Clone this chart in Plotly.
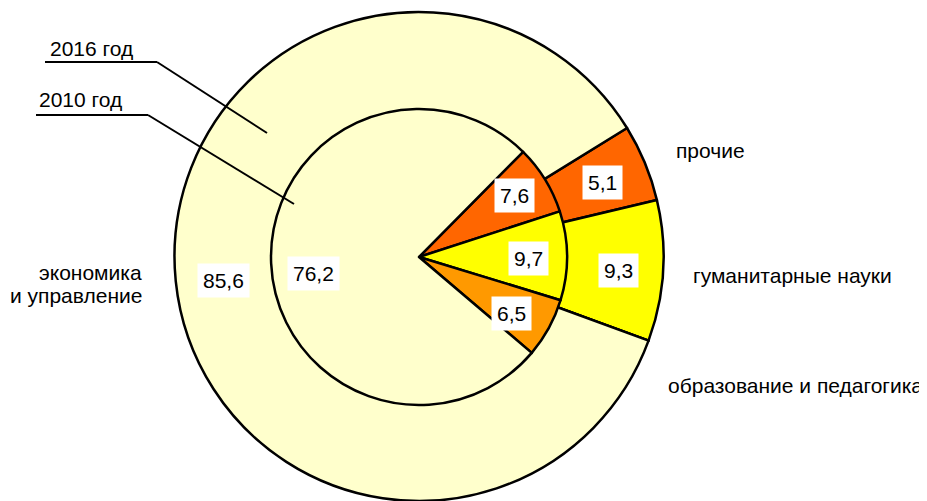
import plotly.graph_objects as go

# data
categories = ["прочие", "гуманитарные науки", "образование и педагогика", "экономика и управление"]
values_2016 = [5.1, 9.3, 0.0, 85.6]
values_2010 = [7.6, 9.7, 6.5, 76.2]

_COLORS = ["#FF6600", "#FFFF00", "#FF9900", "#FFFFCC"]
_FONT = "Arial, Liberation Sans, sans-serif"

# the page body has an 8px margin, so the figure sits at (8, 8) in a 927x501 window
OFF = 8
W, H = 927 - OFF, 501 - OFF


def px(x):
    return (x - OFF) / W


def py(y):
    return 1 - (y - OFF) / H


fig = go.Figure()

# outer ring - 2016
fig.add_trace(go.Pie(
    labels=categories,
    values=values_2016,
    sort=False,
    direction="clockwise",
    rotation=58.3,
    marker=dict(colors=_COLORS, line=dict(color="black", width=2.5)),
    textinfo="none",
    domain=dict(x=[px(174.5), px(663.5)], y=[0, py(12)]),
    showlegend=False,
    name="2016 год",
))

# inner pie - 2010
fig.add_trace(go.Pie(
    labels=categories,
    values=values_2010,
    sort=False,
    direction="clockwise",
    rotation=44.7,
    marker=dict(colors=_COLORS, line=dict(color="black", width=2.5)),
    textinfo="none",
    domain=dict(x=[px(271), px(567)], y=[py(405), py(109)]),
    showlegend=False,
    name="2010 год",
))


def fmt(v):
    return f"{v:.1f}".replace(".", ",")


def label(x, y, text, xanchor="center", **kw):
    fig.add_annotation(
        x=px(x), y=py(y), xref="paper", yref="paper",
        xanchor=xanchor, yanchor="middle",
        text=text, showarrow=False,
        font=dict(size=21, color="black", family=_FONT),
        **kw,
    )


# value boxes (outer ring, then inner pie)
pos_2016 = [(602, 182), (618, 270), None, (223, 280)]
pos_2010 = [(514, 196), (528, 258), (511, 313), (313, 273)]
for vals, positions in ((values_2016, pos_2016), (values_2010, pos_2010)):
    for v, p in zip(vals, positions):
        if p is None or v == 0:
            continue
        label(p[0], p[1], fmt(v), bgcolor="white", borderpad=5)

# category labels
label(674, 150, "прочие", xanchor="left")
label(691, 275, "гуманитарные науки", xanchor="left")
label(666, 385, "образование и педагогика", xanchor="left")
label(144, 272, "экономика", xanchor="right")
label(144, 295, "и управление", xanchor="right")
label(48, 48, "2016 год", xanchor="left")
label(37, 100, "2010 год", xanchor="left")

# leader lines for the year labels
for pts in (
    [(45, 62), (157, 62), (267, 133)],
    [(36, 115), (148, 115), (294, 204)],
):
    for (x0, y0), (x1, y1) in zip(pts[:-1], pts[1:]):
        fig.add_shape(type="line", xref="paper", yref="paper",
                      x0=px(x0), y0=py(y0), x1=px(x1), y1=py(y1),
                      line=dict(color="black", width=2))

fig.update_layout(
    width=W, height=H,
    margin=dict(l=0, r=0, t=0, b=0),
    paper_bgcolor="white",
    plot_bgcolor="white",
    font=dict(family=_FONT, color="black"),
)

fig.write_html("out.html")
